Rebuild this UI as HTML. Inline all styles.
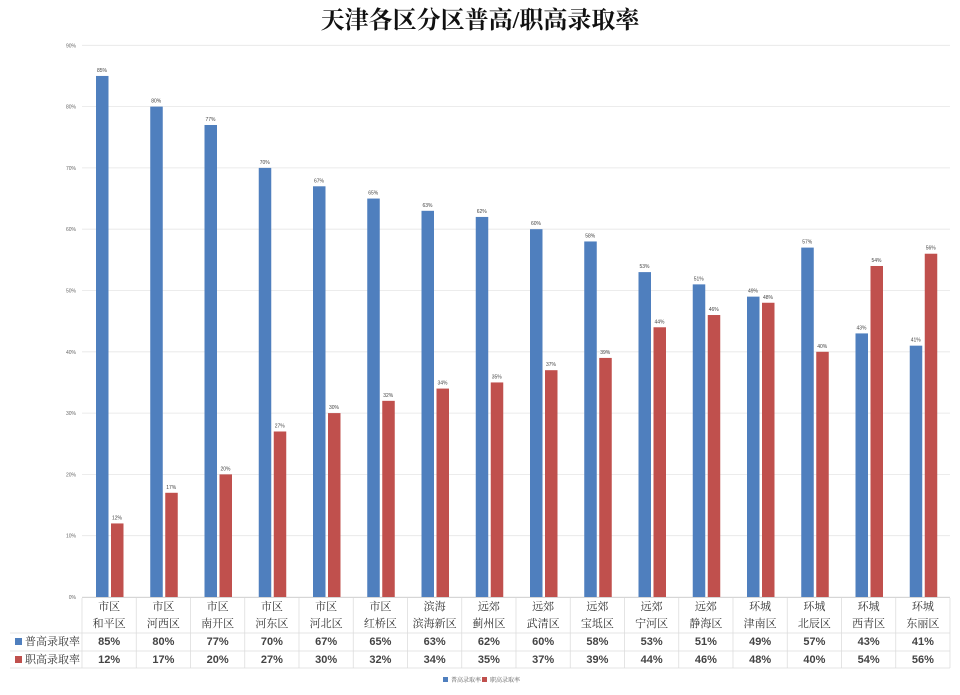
<!DOCTYPE html>
<html><head><meta charset="utf-8"><style>
body{margin:0;background:#fff;width:960px;height:690px;overflow:hidden;font-family:"Liberation Sans","Noto Serif CJK SC","Noto Sans CJK SC",serif;}
</style></head><body>
<svg id="chart" width="960" height="690" xmlns="http://www.w3.org/2000/svg">
<rect width="960" height="690" fill="#fff"/>
<text x="480" y="28" text-anchor="middle" font-size="24" font-weight="bold" font-family="'Liberation Serif','Noto Serif CJK SC',serif" fill="#111">天津各区分区普高/职高录取率</text>
<g id="grid"></g><g id="bars"></g><g id="table"></g>
<g>
<rect x="443" y="677" width="5" height="5" fill="#4f7fbe"/><text x="451" y="682" font-size="6" fill="#555">普高录取率</text>
<rect x="482" y="677" width="5" height="5" fill="#c0504d"/><text x="490" y="682" font-size="6" fill="#555">职高录取率</text>
</g>
</svg>
<script>
const line1=["市区","市区","市区","市区","市区","市区","滨海","远郊","远郊","远郊","远郊","远郊","环城","环城","环城","环城"];
const line2=["和平区","河西区","南开区","河东区","河北区","红桥区","滨海新区","蓟州区","武清区","宝坻区","宁河区","静海区","津南区","北辰区","西青区","东丽区"];
const general=[85,80,77,70,67,65,63,62,60,58,53,51,49,57,43,41];
const vocational=[12,17,20,27,30,32,34,35,37,39,44,46,48,40,54,56];
const ticks=[0,10,20,30,40,50,60,70,80,90];
const NS="http://www.w3.org/2000/svg";
const x0=82,gw=54.25,yBase=597,pxPer=6.13;
const y=v=>yBase-v*pxPer;
function mk(t,a,p,txt){const e=document.createElementNS(NS,t);for(const k in a)e.setAttribute(k,a[k]);if(txt!==undefined)e.textContent=txt;p.appendChild(e);return e;}
const grid=document.getElementById('grid'),bars=document.getElementById('bars'),tb=document.getElementById('table');
ticks.forEach(t=>{
 const l=mk('line',{x1:x0,x2:950,y1:y(t),y2:y(t),stroke:'#e6e6e6','stroke-width':0.8},grid);
 
 
 const tx=mk('text',{x:76,y:y(t)+2,'text-anchor':'end','font-size':5,fill:'#666'},grid,t+'%');
 
 
});
general.forEach((v,i)=>{
 const gx=x0+i*gw;
 const b=mk('rect',{x:gx+14,y:y(v),width:12.5,height:v*pxPer,fill:'#4f7fbe'},bars);
 
 
 const lb=mk('text',{x:gx+20,y:y(v)-4,'text-anchor':'middle','font-size':5,fill:'#444'},bars,v+'%');
 
 
 const w=vocational[i];
 const r=mk('rect',{x:gx+29,y:y(w),width:12.5,height:w*pxPer,fill:'#c0504d'},bars);
 
 
 const lr=mk('text',{x:gx+35,y:y(w)-4,'text-anchor':'middle','font-size':5,fill:'#444'},bars,w+'%');
 
 
 // table
 const c1=mk('text',{x:gx+gw/2,y:610,'text-anchor':'middle','font-size':11,fill:'#333'},tb,line1[i]);
 
 
 mk('text',{x:gx+gw/2,y:627,'text-anchor':'middle','font-size':11,fill:'#333'},tb,line2[i]);
 const t1=mk('text',{x:gx+gw/2,y:645,'text-anchor':'middle','font-size':11,'font-weight':'bold',fill:'#444'},tb,v+'%');
 
 
 const t2=mk('text',{x:gx+gw/2,y:663,'text-anchor':'middle','font-size':11,'font-weight':'bold',fill:'#444'},tb,w+'%');
 
 
 mk('line',{x1:gx,x2:gx,y1:598,y2:668,stroke:'#ddd','stroke-width':0.8},tb);
});
mk('line',{x1:950,x2:950,y1:598,y2:668,stroke:'#ddd','stroke-width':0.8},tb);
mk('line',{x1:x0,x2:950,y1:597.5,y2:597.5,stroke:'#ccc','stroke-width':0.8},tb);
[633,651,668].forEach(yy=>mk('line',{x1:10,x2:950,y1:yy,y2:yy,stroke:'#ddd','stroke-width':0.8},tb));
mk('rect',{x:15,y:638,width:7,height:7,fill:'#4f7fbe'},tb);
mk('text',{x:25,y:645,'font-size':11,fill:'#333'},tb,'普高录取率');
mk('rect',{x:15,y:656,width:7,height:7,fill:'#c0504d'},tb);
mk('text',{x:25,y:663,'font-size':11,fill:'#333'},tb,'职高录取率');
</script>
</body></html>
